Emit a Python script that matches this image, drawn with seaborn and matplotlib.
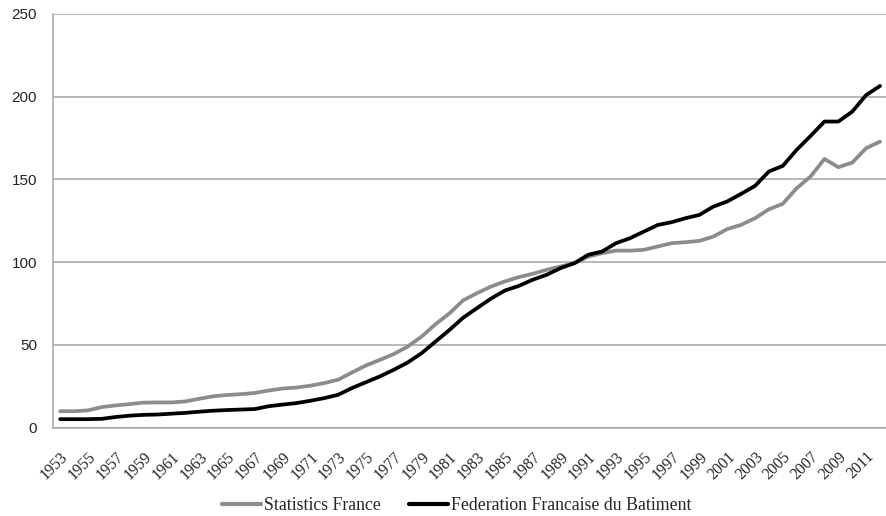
import numpy as np
import pandas as pd
import matplotlib
matplotlib.use("Agg")
import matplotlib.pyplot as plt
import seaborn as sns

# %% data
years = list(range(1953, 2013))

stats_france = [
    10, 10, 10.5, 12.5, 13.5, 14.3, 15.2, 15.3, 15.3, 15.9,
    17.5, 19, 19.8, 20.3, 21, 22.5, 23.7, 24.3, 25.4, 27,
    29, 33.4, 37.6, 41, 44.5, 49, 55, 62.5, 69, 77,
    81.3, 85.3, 88.4, 91, 93, 95.4, 97.4, 99.4, 103.4, 105.5,
    107, 107, 107.5, 109.5, 111.5, 112.1, 112.9, 115.5, 120, 122.6,
    126.6, 132, 135.3, 144.7, 151.8, 162.4, 157.4, 160.2, 168.9, 172.9,
]

ffb = [
    5.2, 5.2, 5.2, 5.4, 6.5, 7.3, 7.8, 8, 8.5, 9,
    9.7, 10.3, 10.7, 11, 11.3, 13, 14, 14.9, 16.3, 17.9,
    19.9, 24, 27.5, 31, 35, 39.4, 45, 52, 59, 66.5,
    72.3, 78, 82.9, 85.7, 89.4, 92.4, 96.4, 99.4, 104.5, 106.5,
    111.5, 114.5, 118.5, 122.5, 124.2, 126.6, 128.6, 133.6, 136.7, 141.3,
    146.1, 154.8, 158.2, 167.9, 176.3, 185, 185, 191, 201, 206.5,
]

series_names = ["Statistics France", "Federation Francaise du Batiment"]
series_colors = ["#8c8c8c", "#000000"]

df = pd.DataFrame({"Year": years, series_names[0]: stats_france, series_names[1]: ffb})
long_df = df.melt(id_vars="Year", var_name="Source", value_name="Index")

# %% plot
sns.set_style("white")
plt.rcParams["font.family"] = ["Liberation Serif", "DejaVu Serif"]

fig = plt.figure(figsize=(8.87, 5.16), dpi=100)
ax = fig.add_axes([0.060, 0.171, 0.940, 0.802])

sns.lineplot(data=long_df, x="Year", y="Index", hue="Source",
             palette=dict(zip(series_names, series_colors)),
             linewidth=2.7, ax=ax, legend=False)

ax.set_xlim(1952.5, 2012.5)
ax.set_ylim(0, 250)
ax.set_yticks(range(0, 251, 50))
ax.yaxis.grid(True, color="#a6a6a6", linewidth=1.1)
ax.set_axisbelow(True)

# category style x-axis: ticks between years, labels every second year
ax.set_xticks(np.arange(1952.5, 2013, 1), minor=True)
ax.set_xticks(years[::2])
ax.set_xticklabels([str(y) for y in years[::2]], rotation=45, ha="right",
                   rotation_mode="anchor", fontsize=11.5)
ax.tick_params(axis="x", which="major", length=0, pad=15)
ax.tick_params(axis="x", which="minor", length=4, color="#a6a6a6", width=1)
ax.tick_params(axis="y", length=4.5, color="#a6a6a6", width=1.1, labelsize=11, pad=7)
for lbl in ax.get_yticklabels():
    lbl.set_family(["Liberation Sans", "DejaVu Sans"])
ax.set_xlabel("")
ax.set_ylabel("")

for side in ["top", "right"]:
    ax.spines[side].set_visible(False)
for side in ["left", "bottom"]:
    ax.spines[side].set_color("#a6a6a6")
    ax.spines[side].set_linewidth(1.1)

handles = [plt.Line2D([], [], color=c, linewidth=3) for c in series_colors]
fig.legend(handles, series_names, loc="lower center", bbox_to_anchor=(0.515, -0.028),
           ncol=2, frameon=False, fontsize=12.8, handlelength=2.2,
           handletextpad=0.15, columnspacing=1.6)

fig.savefig("out.png", dpi=100)
